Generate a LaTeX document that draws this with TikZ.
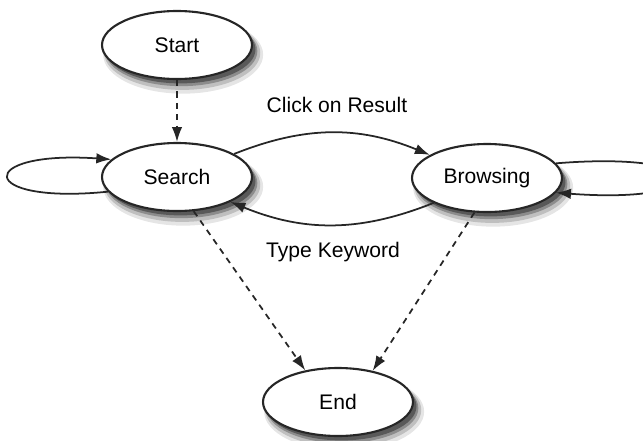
\documentclass[tikz,border=0pt]{standalone}
\usepackage{fontspec}
\setmainfont{Liberation Sans}
\usetikzlibrary{arrows.meta,shapes.geometric}

\begin{document}
\begin{tikzpicture}[x=0.02cm,y=-0.02cm,line width=1pt,>={Latex[length=8.5pt,width=6pt]}]
    \tikzstyle{state}=[ellipse,draw=black!85,line width=1.2pt,fill=white,minimum width=3cm,minimum height=1.36cm,inner sep=0pt,font=\fontsize{12}{14}\selectfont]
    \tikzstyle{move}=[->,draw=black!85]
    \tikzstyle{quit}=[move,dash pattern=on 3.5pt off 3pt]
    \tikzstyle{annot}=[font=\fontsize{12}{14}\selectfont]
    \def\statelist{177/45/start/Start,177/177/search/Search,487/178/browse/Browsing,338/402/end/End}

    \useasboundingbox (0,0) rectangle (643,440);

    % Soft shadows first, then the states on top
    \foreach \x/\y/\name/\text in \statelist {
        \fill[black!10] (\x,\y) ++(3.5pt,-5.5pt) ellipse [x radius=1.6cm,y radius=0.78cm];
        \fill[black!25] (\x,\y) ++(3pt,-4.5pt) ellipse [x radius=1.56cm,y radius=0.74cm];
        \fill[black!45] (\x,\y) ++(2.5pt,-3.5pt) ellipse [x radius=1.52cm,y radius=0.7cm];
        \fill[black!65] (\x,\y) ++(2pt,-2.5pt) ellipse [x radius=1.5cm,y radius=0.68cm];
    }
    \foreach \x/\y/\name/\text in \statelist
        \node[state] (\name) at (\x,\y) {\text};

    % Moves between searching and browsing
    \draw[move] (search.22) to[bend left=22] (browse.158);
    \draw[move] (browse.205) to[bend left=22] (search.335);

    % Staying in the same state
    \draw[move] (search.192) .. controls (-25,205) and (-25,150) .. (search.165);
    \draw[move] (browse.12) .. controls (720,150) and (720,205) .. (browse.348);

    % Start and leaving
    \draw[quit] (start) -- (search);
    \draw[quit] (search.296) -- (end.136);
    \draw[quit] (browse.250) -- (end.42);

    % Labels of the moves
    \node[annot] (click) at (337,105) {Click on Result};
    \node[annot] (type) at (333,252) {Type Keyword};
\end{tikzpicture}
\end{document}
